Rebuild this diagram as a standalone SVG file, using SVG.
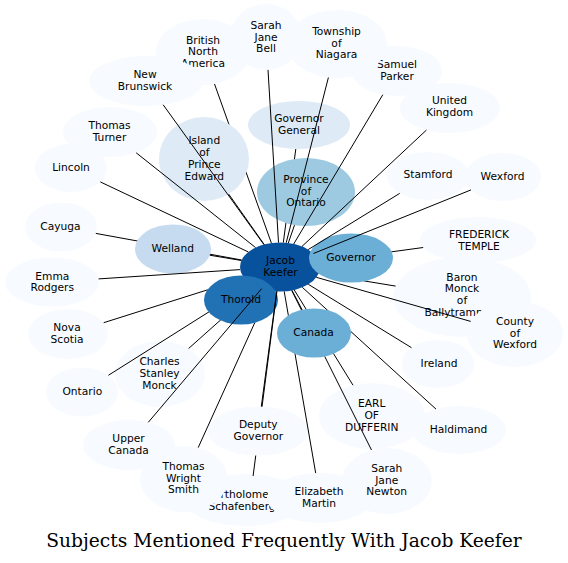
<svg xmlns="http://www.w3.org/2000/svg" width="568" height="563" viewBox="0 0 568 563">
<style>
.c1{fill:#f7fbff}.c2{fill:#deebf7}.c3{fill:#c6dbef}.c4{fill:#9ecae1}.c5{fill:#6baed6}.c7{fill:#2171b5}.c8{fill:#08519c}
text.l{font-family:"DejaVu Sans","Liberation Sans",sans-serif;font-size:10.67px;text-anchor:middle;fill:#000}
#edges line{stroke:#000;stroke-width:1;fill:none}
.title{font-family:"DejaVu Serif","Liberation Serif",serif;font-size:18.67px;text-anchor:middle;fill:#000}
</style>
<defs>
<mask id="mIsland" maskUnits="userSpaceOnUse" x="0" y="0" width="568" height="563"><rect width="568" height="563" fill="#fff"/><ellipse cx="204" cy="159" rx="45" ry="42" fill="#000"/></mask>
<mask id="mProvince" maskUnits="userSpaceOnUse" x="0" y="0" width="568" height="563"><rect width="568" height="563" fill="#fff"/><ellipse cx="306" cy="192" rx="49" ry="34" fill="#000"/></mask>
<mask id="mWelland" maskUnits="userSpaceOnUse" x="0" y="0" width="568" height="563"><rect width="568" height="563" fill="#fff"/><ellipse cx="173" cy="249" rx="38" ry="24.5" fill="#000"/></mask>
<mask id="mThorold" maskUnits="userSpaceOnUse" x="0" y="0" width="568" height="563"><rect width="568" height="563" fill="#fff"/><ellipse cx="241" cy="300" rx="37" ry="24.5" fill="#000"/></mask>
<mask id="mGovernor" maskUnits="userSpaceOnUse" x="0" y="0" width="568" height="563"><rect width="568" height="563" fill="#fff"/><ellipse cx="351" cy="258" rx="42" ry="24.5" fill="#000"/></mask>
<mask id="mCanada" maskUnits="userSpaceOnUse" x="0" y="0" width="568" height="563"><rect width="568" height="563" fill="#fff"/><ellipse cx="314" cy="333" rx="37" ry="24.5" fill="#000"/></mask>
<mask id="mDeputy" maskUnits="userSpaceOnUse" x="0" y="0" width="568" height="563"><rect width="568" height="563" fill="#fff"/><ellipse cx="258" cy="431" rx="50" ry="24.5" fill="#000"/></mask>
</defs>
<rect width="568" height="563" fill="#fff"/>
<g id="nodes">
<g id="n-sarah-jane-bell"><ellipse class="c1" cx="266" cy="37" rx="36" ry="33"/><text class="l" x="266"><tspan x="266" y="29">Sarah</tspan><tspan x="266" y="40.7">Jane</tspan><tspan x="266" y="52.4">Bell</tspan></text></g>
<g id="n-british-north-america"><ellipse class="c1" cx="203" cy="52" rx="47" ry="33"/><text class="l"><tspan x="203" y="43.7">British</tspan><tspan x="203" y="55.4">North</tspan><tspan x="203" y="67.1">America</tspan></text></g>
<g id="n-new-brunswick"><ellipse class="c1" cx="146" cy="81" rx="57" ry="25"/><text class="l"><tspan x="145" y="78">New</tspan><tspan x="145" y="89.7">Brunswick</tspan></text></g>
<g id="n-thomas-turner"><ellipse class="c1" cx="110" cy="132" rx="47" ry="25"/><text class="l"><tspan x="109.5" y="129.4">Thomas</tspan><tspan x="109.5" y="141.1">Turner</tspan></text></g>
<g id="n-lincoln"><ellipse class="c1" cx="71" cy="168" rx="36" ry="24"/><text class="l" x="71" y="170.6">Lincoln</text></g>
<g id="n-island-of-prince-edward"><ellipse class="c2" cx="204" cy="159" rx="45" ry="42"/><text class="l"><tspan x="204.3" y="144.4">Island</tspan><tspan x="204.3" y="156.1">of</tspan><tspan x="204.3" y="167.8">Prince</tspan><tspan x="204.3" y="179.5">Edward</tspan></text></g>
<g id="n-governor-general"><ellipse class="c2" cx="299" cy="125" rx="51" ry="24"/><text class="l"><tspan x="299" y="122.2">Governor</tspan><tspan x="299" y="133.9">General</tspan></text></g>
<g id="n-province-of-ontario"><ellipse class="c4" cx="306" cy="192" rx="49" ry="34"/><text class="l"><tspan x="306" y="182.9">Province</tspan><tspan x="306" y="194.6">of</tspan><tspan x="306" y="206.3">Ontario</tspan></text></g>
<g id="n-samuel-parker"><ellipse class="c1" cx="397" cy="71" rx="45" ry="25"/><text class="l"><tspan x="397" y="68">Samuel</tspan><tspan x="397" y="79.7">Parker</tspan></text></g>
<g id="n-township-of-niagara"><ellipse class="c1" cx="337" cy="44" rx="50" ry="34"/><text class="l"><tspan x="336.5" y="34.9">Township</tspan><tspan x="336.5" y="46.6">of</tspan><tspan x="336.5" y="58.3">Niagara</tspan></text></g>
<g id="n-united-kingdom"><ellipse class="c1" cx="450" cy="108" rx="50" ry="25"/><text class="l"><tspan x="449.5" y="104.4">United</tspan><tspan x="449.5" y="116.1">Kingdom</tspan></text></g>
<g id="n-stamford"><ellipse class="c1" cx="428" cy="176" rx="41" ry="24"/><text class="l" x="428" y="178.2">Stamford</text></g>
<g id="n-wexford"><ellipse class="c1" cx="503" cy="177" rx="38" ry="24"/><text class="l" x="502.5" y="179.9">Wexford</text></g>
<g id="n-cayuga"><ellipse class="c1" cx="61" cy="227" rx="36" ry="24.5"/><text class="l" x="60.5" y="229.9">Cayuga</text></g>
<g id="n-welland"><ellipse class="c3" cx="173" cy="249" rx="38" ry="24.5"/><text class="l" x="172.7" y="252.2">Welland</text></g>
<g id="n-jacob-keefer"><ellipse class="c8" cx="280" cy="267" rx="40" ry="24.5"/><text class="l"><tspan x="280.5" y="264">Jacob</tspan><tspan x="280.5" y="275.7">Keefer</tspan></text></g>
<g id="n-governor"><ellipse class="c5" cx="351" cy="258" rx="42" ry="24.5"/><text class="l" x="351" y="261.2">Governor</text></g>
<g id="n-emma-rodgers"><ellipse class="c1" cx="52" cy="282" rx="47" ry="24.5"/><text class="l"><tspan x="52.3" y="279.5">Emma</tspan><tspan x="52.3" y="291.2">Rodgers</tspan></text></g>
<g id="n-thorold"><ellipse class="c7" cx="241" cy="300" rx="37" ry="24.5"/><text class="l" x="241" y="303.2">Thorold</text></g>
<g id="n-nova-scotia"><ellipse class="c1" cx="68" cy="334" rx="40" ry="25"/><text class="l"><tspan x="67" y="331.2">Nova</tspan><tspan x="67" y="342.9">Scotia</tspan></text></g>
<g id="n-frederick-temple"><ellipse class="c1" cx="478" cy="240" rx="58" ry="23"/><text class="l"><tspan x="479" y="237.8">FREDERICK</tspan><tspan x="479" y="249.5">TEMPLE</tspan></text></g>
<g id="n-baron-monck"><ellipse class="c1" cx="462" cy="297" rx="69" ry="40"/><text class="l"><tspan x="462" y="280.6">Baron</tspan><tspan x="462" y="292.3">Monck</tspan><tspan x="462" y="304">of</tspan><tspan x="462" y="315.7">Ballytrammon</tspan></text></g>
<g id="n-county-of-wexford"><ellipse class="c1" cx="515" cy="334" rx="48" ry="33"/><text class="l"><tspan x="515" y="324.9">County</tspan><tspan x="515" y="336.6">of</tspan><tspan x="515" y="348.3">Wexford</tspan></text></g>
<g id="n-canada"><ellipse class="c5" cx="314" cy="333" rx="37" ry="24.5"/><text class="l" x="313.5" y="336.2">Canada</text></g>
<g id="n-ireland"><ellipse class="c1" cx="438" cy="364" rx="36" ry="24"/><text class="l" x="439" y="366.6">Ireland</text></g>
<g id="n-charles-stanley-monck"><ellipse class="c1" cx="160" cy="374" rx="45" ry="33"/><text class="l"><tspan x="159.5" y="365.2">Charles</tspan><tspan x="159.5" y="376.9">Stanley</tspan><tspan x="159.5" y="388.6">Monck</tspan></text></g>
<g id="n-ontario"><ellipse class="c1" cx="82" cy="392" rx="36" ry="24.5"/><text class="l" x="82.3" y="394.9">Ontario</text></g>
<g id="n-earl-of-dufferin"><ellipse class="c1" cx="372" cy="416" rx="53" ry="33"/><text class="l"><tspan x="371.7" y="407.2">EARL</tspan><tspan x="371.7" y="418.9">OF</tspan><tspan x="371.7" y="430.6">DUFFERIN</tspan></text></g>
<g id="n-haldimand"><ellipse class="c1" cx="459" cy="430" rx="47" ry="24"/><text class="l" x="458.5" y="432.9">Haldimand</text></g>
<g id="n-upper-canada"><ellipse class="c1" cx="129" cy="445" rx="46" ry="25"/><text class="l"><tspan x="128.5" y="442.2">Upper</tspan><tspan x="128.5" y="453.9">Canada</tspan></text></g>
<g id="n-deputy-governor"><ellipse class="c1" cx="258" cy="431" rx="50" ry="24.5"/><text class="l"><tspan x="258.3" y="428.2">Deputy</tspan><tspan x="258.3" y="439.9">Governor</tspan></text></g>
<g id="n-bartholomew-schafenberg"><ellipse class="c1" cx="245" cy="500" rx="60" ry="26"/><text class="l"><tspan x="242" y="498.2">Bartholomew</tspan><tspan x="242" y="509.9">Schafenberg</tspan></text></g>
<g id="n-thomas-wright-smith"><ellipse class="c1" cx="184" cy="479" rx="44" ry="33"/><text class="l"><tspan x="183.5" y="469.8">Thomas</tspan><tspan x="183.5" y="481.5">Wright</tspan><tspan x="183.5" y="493.2">Smith</tspan></text></g>
<g id="n-elizabeth-martin"><ellipse class="c1" cx="320" cy="498" rx="53" ry="25"/><text class="l"><tspan x="319" y="495.2">Elizabeth</tspan><tspan x="319" y="506.9">Martin</tspan></text></g>
<g id="n-sarah-jane-newton"><ellipse class="c1" cx="387" cy="481" rx="45" ry="33"/><text class="l"><tspan x="386.7" y="472">Sarah</tspan><tspan x="386.7" y="483.7">Jane</tspan><tspan x="386.7" y="495.4">Newton</tspan></text></g>
</g>
<g id="edges">
<line x1="278.5" y1="242.5" x2="268" y2="69.9"/>
<line x1="271.4" y1="243.1" x2="214.5" y2="84" mask="url(#mIsland)"/>
<line x1="263.9" y1="244.6" x2="163.2" y2="104.8"/>
<line x1="255.6" y1="247.6" x2="136.2" y2="152.8"/>
<line x1="248.4" y1="252" x2="100.3" y2="181.9"/>
<line x1="264.2" y1="244.5" x2="228.7" y2="194.1"/>
<line x1="283.3" y1="242.6" x2="295.8" y2="149" mask="url(#mProvince)"/>
<line x1="288.3" y1="243" x2="294.5" y2="225.1"/>
<line x1="286.2" y1="242.8" x2="328.4" y2="77.5"/>
<line x1="293.7" y1="244" x2="382.8" y2="94.7"/>
<line x1="301.9" y1="246.5" x2="426.4" y2="130.1"/>
<line x1="308.2" y1="249.6" x2="399.7" y2="193.4"/>
<line x1="313.4" y1="253.5" x2="471" y2="189.9"/>
<line x1="241.7" y1="260" x2="95.8" y2="233.4" mask="url(#mWelland)"/>
<line x1="241.4" y1="260.5" x2="209.8" y2="255.2"/>
<line x1="240.2" y1="269.6" x2="98.6" y2="278.9"/>
<line x1="244.4" y1="278.2" x2="103.7" y2="322.7" mask="url(#mThorold)"/>
<line x1="319" y1="261.7" x2="423.2" y2="247.5" mask="url(#mGovernor)"/>
<line x1="318.6" y1="273.4" x2="395.6" y2="286.1" mask="url(#mGovernor)"/>
<line x1="316.3" y1="277.3" x2="470.7" y2="321.4"/>
<line x1="292" y1="290.4" x2="302.1" y2="309.8"/>
<line x1="308.3" y1="284.3" x2="411.5" y2="347.7"/>
<line x1="257.4" y1="287.2" x2="188.6" y2="348.5" mask="url(#mThorold)"/>
<line x1="252.2" y1="284.6" x2="108.4" y2="375.3" mask="url(#mThorold)"/>
<line x1="294.2" y1="289.9" x2="353" y2="385.2" mask="url(#mCanada)"/>
<line x1="302.3" y1="287.3" x2="436" y2="409.1" mask="url(#mCanada)"/>
<line x1="261.6" y1="288.7" x2="148.3" y2="422.3"/>
<line x1="276.7" y1="291.4" x2="261.3" y2="406.6"/>
<line x1="269.3" y1="290.6" x2="198.2" y2="447.6" mask="url(#mThorold)"/>
<line x1="276.9" y1="291.4" x2="253.1" y2="476" mask="url(#mDeputy)"/>
<line x1="291.7" y1="290.4" x2="371.5" y2="450" mask="url(#mCanada)"/>
<line x1="284.2" y1="291.4" x2="315.7" y2="473.1" mask="url(#mCanada)"/>
</g>
<text class="title" x="284" y="547">Subjects Mentioned Frequently With Jacob Keefer</text>
</svg>
